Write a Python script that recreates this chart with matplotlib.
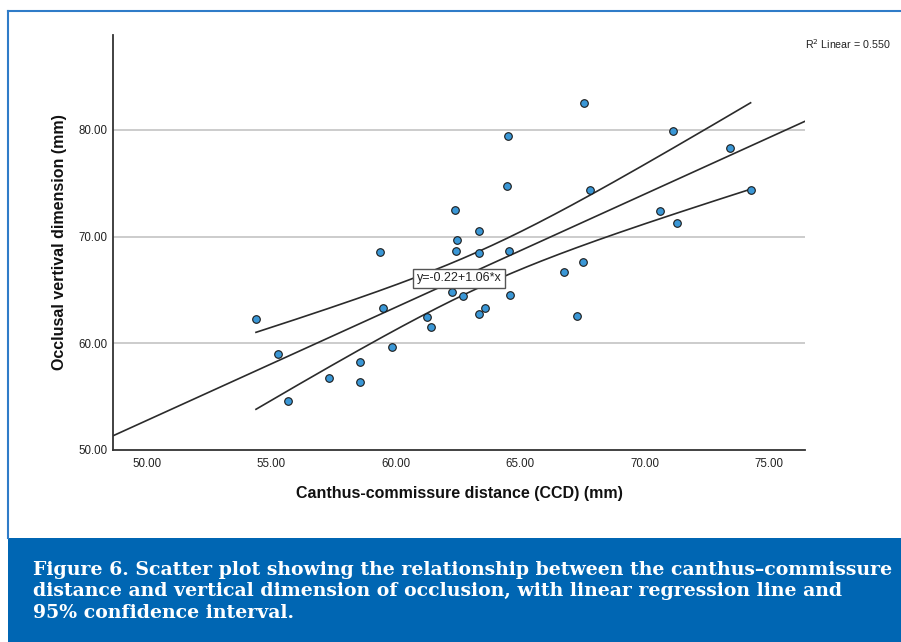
import numpy as np
import matplotlib
matplotlib.use("Agg")
import matplotlib.pyplot as plt
from matplotlib.patches import Rectangle
from matplotlib.lines import Line2D

# Canthus-commissure distance (mm) and occlusal vertical dimension (mm)
ccd = [54.38, 55.26, 55.66, 57.31, 58.55, 58.55, 59.36, 59.48, 59.84, 61.24,
       61.41, 62.37, 62.45, 62.41, 62.25, 62.69, 63.33, 63.57, 63.33, 63.33,
       64.46, 64.50, 64.54, 64.58, 67.55, 66.75, 67.51, 67.27, 67.79, 70.60,
       71.16, 71.29, 73.45, 74.26]
ovd = [62.28, 59.00, 54.60, 56.75, 58.25, 56.37, 68.56, 63.30, 59.65, 62.46,
       61.53, 72.50, 69.70, 68.65, 64.80, 64.43, 62.75, 63.30, 70.50, 68.46,
       74.74, 79.43, 68.65, 64.53, 82.52, 66.68, 67.62, 62.56, 74.37, 72.40,
       79.90, 71.27, 78.30, 74.37]

# regression reported by SPSS
intercept = -0.22
slope = 1.06
r2_text = "R$^2$ Linear = 0.550"
eq_text = "y=-0.22+1.06*x"

x_ticks = [50, 55, 60, 65, 70, 75]
y_ticks = [50, 60, 70, 80]

caption_lines = [
    "Figure 6. Scatter plot showing the relationship between the canthus\u2013commissure",
    "distance and vertical dimension of occlusion, with linear regression line and",
    "95% confidence interval.",
]

BLUE = "#0066b3"
x = np.array(ccd)
y = np.array(ovd)

fig = plt.figure(figsize=(9.01, 6.42), dpi=100)
fig.patch.set_facecolor("white")

# frame + caption band
fig.add_artist(Line2D([8/901, 1], [1 - 11/642, 1 - 11/642], color="#2f7cc8", lw=1.5))
fig.add_artist(Line2D([8/901, 8/901], [1 - 11/642, 1 - 538/642], color="#2f7cc8", lw=1.5))
fig.add_artist(Rectangle((8/901, 0), 1 - 8/901, 1 - 538/642, transform=fig.transFigure,
                         facecolor=BLUE, edgecolor="none"))
for i, line in enumerate(caption_lines):
    fig.text(33/901, 1 - (575 + 21.5 * i)/642, line, color="white",
             family="DejaVu Serif", weight="bold", fontsize=13.55, va="baseline")

ax = fig.add_axes([113/901, 1 - 450/642, (805 - 113)/901, (450 - 35)/642])
ax.set_xlim(48.633, 76.447)
ax.set_ylim(50, 88.9)

for v in [60, 70, 80]:
    ax.axhline(v, color="#c4c4c4", lw=1.2, zorder=0)

# fit line across whole axis
xx = np.linspace(48.633, 76.447, 2)
ax.plot(xx, intercept + slope * xx, color="#2b2b2b", lw=1.2, zorder=2)

# 95% CI of the mean
n = len(x)
resid = y - (intercept + slope * x)
s = np.sqrt(np.sum(resid**2) / (n - 2))
sxx = np.sum((x - x.mean())**2)
xc = np.linspace(x.min(), x.max(), 200)
half = 2.037 * s * np.sqrt(1/n + (xc - x.mean())**2 / sxx)
yc = intercept + slope * xc
ax.plot(xc, yc + half, color="#2b2b2b", lw=1.2, zorder=2)
ax.plot(xc, yc - half, color="#2b2b2b", lw=1.2, zorder=2)

ax.scatter(x, y, s=30, facecolor="#3a97d6", edgecolor="#1a1a1a", linewidth=0.8, zorder=3)

ax.text(62.55, 66.08, eq_text, ha="center", va="center", fontsize=9.0,
        family="Liberation Sans", color="#222222",
        bbox=dict(boxstyle="square,pad=0.3", facecolor="white", edgecolor="#555555", lw=1.0),
        zorder=4)
fig.text(891/901, 1 - 44/642, r2_text, ha="right", va="center", fontsize=7.7,
         family="Liberation Sans", color="#222222")

ax.set_xticks(x_ticks)
ax.set_yticks(y_ticks)
ax.set_xticklabels([f"{t:.2f}" for t in x_ticks], family="Liberation Sans", fontsize=8.3)
ax.set_yticklabels([f"{t:.2f}" for t in y_ticks], family="Liberation Sans", fontsize=8.3)
ax.tick_params(axis="x", length=0, pad=6, colors="#222222")
ax.tick_params(axis="y", length=0, pad=4, colors="#222222")

for side in ["top", "right"]:
    ax.spines[side].set_visible(False)
for side in ["left", "bottom"]:
    ax.spines[side].set_color("#333333")
    ax.spines[side].set_linewidth(1.3)

ax.set_xlabel("Canthus-commissure distance (CCD) (mm)", family="Liberation Sans",
              weight="bold", fontsize=11.5, labelpad=11, color="#111111")
ax.set_ylabel("Occlusal vertival dimension (mm)", family="Liberation Sans",
              weight="bold", fontsize=11.5, labelpad=8, color="#111111")

fig.savefig("out.png", dpi=100)
